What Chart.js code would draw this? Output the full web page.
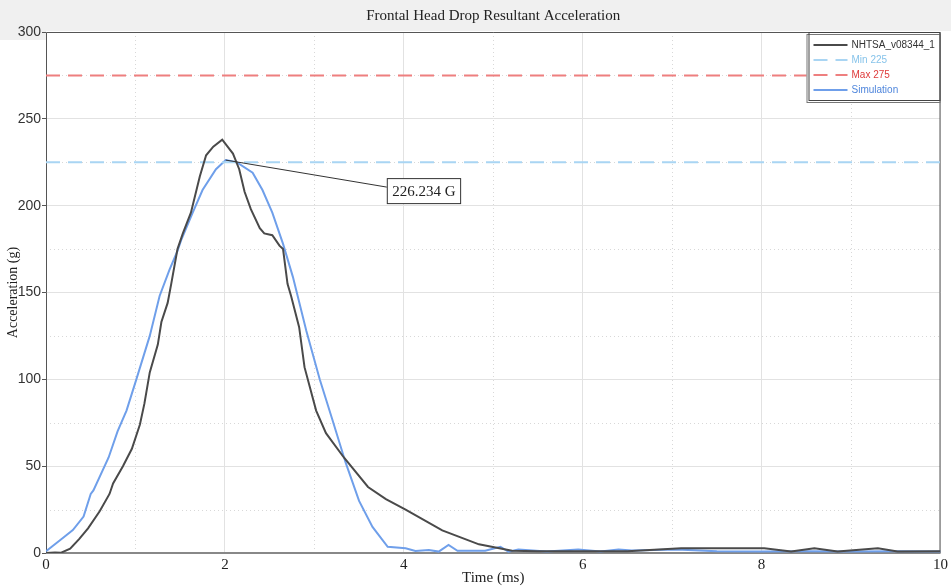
<!DOCTYPE html>
<html>
<head>
<meta charset="utf-8">
<script src="https://cdn.jsdelivr.net/npm/chart.js@4.4.1/dist/chart.umd.min.js"></script>
<style>
  html, body { margin: 0; padding: 0; background: #fff; }
  #wrap { width: 951px; height: 587px; }
</style>
</head>
<body>
<div id="wrap"><canvas id="accelChart" width="951" height="587"></canvas></div>
<script>
const chartTitle = "Frontal Head Drop Resultant Acceleration";

// NHTSA test trace (time in ms, acceleration in g)
const nhtsaTime = [0, 0.1, 0.17, 0.27, 0.37, 0.47, 0.6, 0.71, 0.75, 0.86, 0.96, 1.05, 1.1, 1.16, 1.25, 1.29, 1.36, 1.4, 1.47, 1.53, 1.62, 1.72, 1.79, 1.87, 1.97, 2.09, 2.16, 2.22, 2.29, 2.39, 2.44, 2.53, 2.61, 2.65, 2.7, 2.74, 2.83, 2.89, 3.02, 3.13, 3.33, 3.6, 3.8, 4.02, 4.43, 4.84, 5.21, 5.5, 6.0, 6.5, 7.1, 7.5, 8.03, 8.33, 8.59, 8.85, 9.3, 9.52, 10];
const nhtsaAccel = [0, 0.3, 0.2, 2.5, 8, 14.2, 24, 34, 40, 50, 60, 74, 86, 104, 120, 133, 144, 155, 175, 184, 196, 217, 229, 234, 238, 230, 221, 208, 198, 187, 184, 183, 177, 175, 155, 148, 130, 107, 82, 69, 55, 38, 31, 25, 13, 5, 1.3, 1, 1, 1, 2.7, 2.7, 2.7, 0.8, 2.7, 0.8, 2.7, 0.8, 1];

// simulation trace
const simTime = [0, 0.16, 0.3, 0.42, 0.5, 0.53, 0.7, 0.8, 0.9, 1.01, 1.16, 1.27, 1.38, 1.47, 1.51, 1.64, 1.75, 1.9, 2.01, 2.13, 2.31, 2.42, 2.53, 2.65, 2.76, 2.91, 3.06, 3.2, 3.35, 3.5, 3.65, 3.82, 4.02, 4.13, 4.28, 4.39, 4.5, 4.6, 4.91, 5.08, 5.17, 5.28, 5.6, 5.95, 6.2, 6.4, 6.55, 7.05, 7.5, 8, 8.5, 9, 9.5, 10];
const simAccel = [1, 7.5, 13.2, 21, 34, 36, 55, 70, 82, 100, 125, 148, 163, 174, 180, 196, 209, 221, 226.234, 225, 219, 209, 196, 178, 159, 128, 100, 77, 52, 30, 15, 3.6, 2.7, 1.2, 1.7, 0.8, 4.6, 1.3, 1.3, 3.6, 0.8, 2, 0.8, 2, 0.8, 2, 1.5, 2, 1, 0.8, 1, 0.8, 1, 0.8];

const minLimit = 225;
const maxLimit = 275;

const xTicks = [0, 2, 4, 6, 8, 10];
const yTicks = [0, 50, 100, 150, 200, 250, 300];
const xMinor = [1, 3, 5, 7, 9];
const yMinor = [25, 75, 125, 175, 225, 275];

function toPoints(xs, ys) {
  return xs.map((x, i) => ({ x: x, y: ys[i] }));
}
function limitLine(v) {
  return [{ x: xTicks[0], y: v }, { x: xTicks[xTicks.length - 1], y: v }];
}

const serif = "'Liberation Serif', 'DejaVu Serif', serif";
const sans = "'Liberation Sans', Arial, sans-serif";

const backgroundPlugin = {
  id: 'background',
  beforeDraw(chart) {
    const ctx = chart.ctx;
    ctx.save();
    ctx.fillStyle = '#ffffff';
    ctx.fillRect(0, 0, chart.width, chart.height);
    ctx.fillStyle = '#f0f0f0';
    ctx.fillRect(0, 0, chart.width, 31);
    ctx.fillRect(0, 31, 46, 9);
    ctx.fillStyle = '#222';
    ctx.font = "15px " + serif;
    ctx.textAlign = 'center';
    ctx.textBaseline = 'middle';
    const ca = chart.chartArea;
    ctx.fillText(chartTitle, (ca.left + ca.right) / 2, 16);
    ctx.restore();
  }
};

const framePlugin = {
  id: 'frame',
  beforeDatasetsDraw(chart) {
    const ctx = chart.ctx;
    const ca = chart.chartArea;
    const xs = chart.scales.x, ys = chart.scales.y;
    ctx.save();
    // minor dotted grid
    ctx.strokeStyle = '#d8d8d8';
    ctx.lineWidth = 1;
    ctx.setLineDash([1, 3]);
    xMinor.forEach(v => {
      const px = Math.round(xs.getPixelForValue(v)) + 0.5;
      ctx.beginPath(); ctx.moveTo(px, ca.top); ctx.lineTo(px, ca.bottom); ctx.stroke();
    });
    yMinor.forEach(v => {
      const py = Math.round(ys.getPixelForValue(v)) + 0.5;
      ctx.beginPath(); ctx.moveTo(ca.left, py); ctx.lineTo(ca.right, py); ctx.stroke();
    });
    ctx.setLineDash([]);
    // frame
    ctx.strokeStyle = '#555';
    ctx.lineWidth = 1;
    ctx.beginPath();
    ctx.moveTo(ca.left + 0.5, ca.bottom);
    ctx.lineTo(ca.left + 0.5, ca.top + 0.5);
    ctx.lineTo(ca.right - 0.5, ca.top + 0.5);
    ctx.lineTo(ca.right - 0.5, ca.bottom);
    ctx.stroke();
    ctx.strokeStyle = '#888';
    ctx.lineWidth = 2;
    ctx.beginPath();
    ctx.moveTo(ca.left, ca.bottom);
    ctx.lineTo(ca.right, ca.bottom);
    ctx.stroke();
    ctx.restore();
  }
};

const peakLabelPlugin = {
  id: 'peakLabel',
  afterDatasetsDraw(chart) {
    const ctx = chart.ctx;
    let peak = 0;
    simAccel.forEach((v, i) => { if (v > simAccel[peak]) peak = i; });
    const px = chart.scales.x.getPixelForValue(simTime[peak]);
    const py = chart.scales.y.getPixelForValue(simAccel[peak]);
    const text = simAccel[peak].toFixed(3) + ' G';
    ctx.save();
    ctx.font = "15px " + serif;
    const w = ctx.measureText(text).width + 10;
    const h = 25;
    const bx = px + 161, by = py + 18;
    ctx.strokeStyle = '#333';
    ctx.lineWidth = 1;
    ctx.beginPath();
    ctx.moveTo(px, py);
    ctx.lineTo(bx, by + 9);
    ctx.stroke();
    ctx.fillStyle = '#fff';
    ctx.fillRect(bx + 0.5, by + 0.5, w, h);
    ctx.strokeRect(bx + 0.5, by + 0.5, w, h);
    ctx.fillStyle = '#222';
    ctx.textBaseline = 'middle';
    ctx.textAlign = 'left';
    ctx.fillText(text, bx + 5.5, by + h / 2 + 1);
    ctx.restore();
  }
};

const legendPlugin = {
  id: 'boxLegend',
  afterDraw(chart) {
    const ctx = chart.ctx;
    const ca = chart.chartArea;
    const sets = chart.data.datasets;
    const bw = 133, bh = 68;
    const bx = ca.right - bw - 1, by = ca.top + 2;
    ctx.save();
    ctx.fillStyle = '#fff';
    ctx.fillRect(bx, by, bw, bh);
    ctx.strokeStyle = '#777';
    ctx.lineWidth = 1;
    ctx.strokeRect(bx + 0.5, by + 0.5, bw, bh);
    ctx.strokeStyle = '#444';
    ctx.strokeRect(bx + 2.5, by - 1.5, bw - 2, bh - 0);
    ctx.font = "10px " + sans;
    ctx.textBaseline = 'middle';
    sets.forEach((ds, i) => {
      const y = by + 11 + i * 15;
      ctx.strokeStyle = ds.borderColor;
      ctx.lineWidth = 2;
      ctx.setLineDash(ds.borderDash || []);
      ctx.beginPath();
      ctx.moveTo(bx + 7, y); ctx.lineTo(bx + 41, y);
      ctx.stroke();
      ctx.setLineDash([]);
      ctx.fillStyle = ds.legendColor;
      ctx.fillText(ds.label, bx + 45, y);
    });
    ctx.restore();
  }
};

const ctx = document.getElementById('accelChart').getContext('2d');
new Chart(ctx, {
  type: 'line',
  data: {
    datasets: [
      { label: 'NHTSA_v08344_1', data: toPoints(nhtsaTime, nhtsaAccel), borderColor: '#4a4a4a', legendColor: '#333', borderWidth: 2, pointRadius: 0, tension: 0 },
      { label: 'Min 225', data: limitLine(minLimit), borderColor: '#a9d5f3', legendColor: '#86c3ea', borderWidth: 2, borderDash: [14, 8], pointRadius: 0 },
      { label: 'Max 275', data: limitLine(maxLimit), borderColor: '#ee7f7f', legendColor: '#de3a3a', borderWidth: 2, borderDash: [14, 8], pointRadius: 0 },
      { label: 'Simulation', data: toPoints(simTime, simAccel), borderColor: '#6f9fea', legendColor: '#4f86dc', borderWidth: 2, pointRadius: 0, tension: 0 }
    ]
  },
  options: {
    responsive: false,
    animation: false,
    layout: { padding: { top: 32, right: 8, left: 0, bottom: 0 } },
    plugins: {
      legend: { display: false },
      tooltip: { enabled: false },
      title: { display: false }
    },
    scales: {
      x: {
        type: 'linear',
        min: 0,
        max: 10,
        afterFit(scale) { scale.height = 34; },
        afterBuildTicks(scale) { scale.ticks = xTicks.map(v => ({ value: v })); },
        ticks: { color: '#222', font: { family: serif, size: 15 }, padding: 3, maxRotation: 0 },
        grid: { color: '#e2e2e2', drawTicks: false },
        border: { display: false },
        title: { display: true, text: 'Time (ms)', color: '#222', font: { family: serif, size: 15 }, padding: 0 }
      },
      y: {
        min: 0,
        max: 300,
        afterFit(scale) { scale.width = 46; },
        afterBuildTicks(scale) { scale.ticks = yTicks.map(v => ({ value: v })); },
        ticks: { color: '#333', font: { family: sans, size: 14 }, padding: 1 },
        grid: { color: '#e2e2e2', tickLength: 4, tickColor: '#555' },
        border: { display: false },
        title: { display: true, text: 'Acceleration (g)', color: '#222', font: { family: serif, size: 14 }, padding: 5 }
      }
    }
  },
  plugins: [backgroundPlugin, framePlugin, peakLabelPlugin, legendPlugin]
});
</script>
</body>
</html>
